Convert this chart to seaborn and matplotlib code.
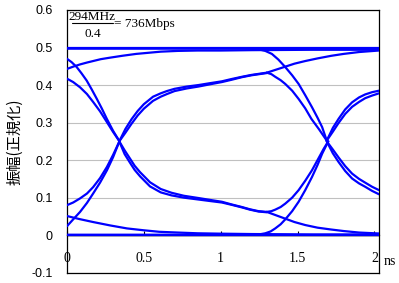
import matplotlib
matplotlib.use("Agg")
import matplotlib.pyplot as plt
import seaborn as sns
import pandas as pd
from matplotlib.lines import Line2D

# ---- axis ticks ----
x_ticks = [0, 0.5, 1, 1.5, 2]
x_tick_labels = ["0", "0.5", "1", "1.5", "2"]
y_ticks = [-0.1, 0, 0.1, 0.2, 0.3, 0.4, 0.5, 0.6]
y_tick_labels = ["-0.1", "0", "0.1", "0.2", "0.3", "0.4", "0.5", "0.6"]

# ---- eye-diagram traces (time in ns, normalised amplitude) ----
# previous bit, ending at first crossing
t_left_fall_hi = [0, 0.03, 0.063, 0.095, 0.128, 0.16, 0.193, 0.226, 0.259, 0.30, 0.34]
v_left_fall_hi = [0.470, 0.461, 0.448, 0.431, 0.412, 0.389, 0.364, 0.338, 0.310, 0.278, 0.251]
t_left_fall_lo = [0, 0.04, 0.085, 0.13, 0.17, 0.215, 0.26, 0.30, 0.34]
v_left_fall_lo = [0.417, 0.408, 0.394, 0.376, 0.355, 0.330, 0.301, 0.275, 0.251]
t_left_rise_hi = [0, 0.04, 0.085, 0.13, 0.17, 0.215, 0.26, 0.30, 0.34]
v_left_rise_hi = [0.080, 0.087, 0.098, 0.111, 0.128, 0.152, 0.182, 0.214, 0.249]
t_left_rise_lo = [0, 0.04, 0.085, 0.13, 0.17, 0.215, 0.26, 0.30, 0.34]
v_left_rise_lo = [0.024, 0.042, 0.062, 0.086, 0.111, 0.140, 0.173, 0.208, 0.249]

# full bit after first crossing
t_mid_rise = [0.34, 0.38, 0.42, 0.46, 0.50, 0.56, 0.61, 0.65, 0.70, 0.78, 0.855, 0.93, 1.008, 1.07, 1.138, 1.20, 1.25, 1.30]
v_mid_rise_a = [0.250, 0.283, 0.309, 0.331, 0.349, 0.369, 0.378, 0.384, 0.390, 0.396, 0.400, 0.405, 0.410, 0.416, 0.422, 0.427, 0.430, 0.433]
v_mid_rise_b = [0.250, 0.273, 0.297, 0.319, 0.337, 0.358, 0.369, 0.376, 0.384, 0.391, 0.396, 0.402, 0.408, 0.414, 0.421, 0.426, 0.429, 0.432]
t_mid_fall = [0.34, 0.375, 0.41, 0.44, 0.475, 0.54, 0.61, 0.68, 0.76, 0.855, 0.93, 1.008, 1.07, 1.138, 1.19, 1.246, 1.30]
v_mid_fall_a = [0.250, 0.226, 0.204, 0.185, 0.168, 0.141, 0.123, 0.113, 0.105, 0.099, 0.094, 0.089, 0.082, 0.075, 0.069, 0.064, 0.062]
v_mid_fall_b = [0.250, 0.216, 0.193, 0.174, 0.157, 0.130, 0.114, 0.106, 0.100, 0.095, 0.091, 0.087, 0.081, 0.074, 0.068, 0.063, 0.061]

t_tail_rise = [1.30, 1.36, 1.42, 1.48, 1.55, 1.63, 1.72, 1.80, 1.90, 2.03]
v_tail_rise = [0.433, 0.441, 0.449, 0.457, 0.464, 0.471, 0.478, 0.483, 0.488, 0.492]
t_bend_down = [1.30, 1.33, 1.355, 1.39, 1.42, 1.465, 1.507, 1.55, 1.59, 1.64, 1.69]
v_bend_down = [0.433, 0.429, 0.422, 0.413, 0.403, 0.385, 0.363, 0.338, 0.310, 0.282, 0.252]
t_tail_fall = [1.30, 1.36, 1.42, 1.48, 1.55, 1.63, 1.72, 1.80, 1.90, 2.03]
v_tail_fall = [0.062, 0.053, 0.044, 0.035, 0.027, 0.020, 0.015, 0.011, 0.007, 0.0045]
t_bend_up = [1.30, 1.33, 1.355, 1.39, 1.42, 1.465, 1.507, 1.55, 1.594, 1.63, 1.67, 1.70]
v_bend_up = [0.062, 0.064, 0.068, 0.075, 0.084, 0.100, 0.120, 0.145, 0.173, 0.200, 0.230, 0.250]

t_top_drop = [0, 1.20, 1.25, 1.29, 1.333, 1.375, 1.42, 1.465, 1.507, 1.55, 1.594, 1.63, 1.66, 1.69]
v_top_drop = [0.497, 0.497, 0.495, 0.491, 0.483, 0.468, 0.448, 0.426, 0.403, 0.373, 0.341, 0.313, 0.288, 0.252]
t_bot_rise = [0, 1.20, 1.25, 1.29, 1.325, 1.355, 1.39, 1.42, 1.465, 1.507, 1.55, 1.594, 1.63, 1.66, 1.70]
v_bot_rise = [0.001, 0.001, 0.002, 0.005, 0.010, 0.018, 0.029, 0.042, 0.064, 0.089, 0.120, 0.155, 0.187, 0.217, 0.250]

t_flat = [0, 2.03]
v_flat_top = [0.498, 0.498]
v_flat_bot = [0.001, 0.001]
t_slow_rise = [0, 0.04, 0.085, 0.13, 0.17, 0.22, 0.28, 0.36, 0.45, 0.53, 0.61, 0.72, 0.85, 1.0, 1.2, 1.6, 2.03]
v_slow_rise = [0.443, 0.449, 0.455, 0.460, 0.464, 0.469, 0.473, 0.478, 0.483, 0.486, 0.489, 0.491, 0.492, 0.492, 0.493, 0.494, 0.494]
t_slow_fall = [0, 0.08, 0.17, 0.28, 0.39, 0.5, 0.6, 0.72, 0.85, 1.0, 1.2, 1.6, 2.03]
v_slow_fall = [0.051, 0.043, 0.035, 0.026, 0.018, 0.013, 0.009, 0.007, 0.005, 0.004, 0.003, 0.002, 0.002]

# after second crossing
t_right = [1.69, 1.73, 1.767, 1.81, 1.855, 1.90, 1.94, 1.985, 2.03]
v_right_rise_a = [0.252, 0.286, 0.310, 0.335, 0.354, 0.367, 0.375, 0.381, 0.385]
v_right_rise_b = [0.252, 0.276, 0.299, 0.323, 0.342, 0.355, 0.365, 0.372, 0.378]
v_right_fall_a = [0.250, 0.228, 0.207, 0.184, 0.164, 0.150, 0.140, 0.129, 0.120]
v_right_fall_b = [0.250, 0.218, 0.195, 0.171, 0.151, 0.138, 0.129, 0.118, 0.109]

traces = {
    "left_fall_hi": (t_left_fall_hi, v_left_fall_hi),
    "left_fall_lo": (t_left_fall_lo, v_left_fall_lo),
    "left_rise_hi": (t_left_rise_hi, v_left_rise_hi),
    "left_rise_lo": (t_left_rise_lo, v_left_rise_lo),
    "mid_rise_a": (t_mid_rise, v_mid_rise_a),
    "mid_rise_b": (t_mid_rise, v_mid_rise_b),
    "mid_fall_a": (t_mid_fall, v_mid_fall_a),
    "mid_fall_b": (t_mid_fall, v_mid_fall_b),
    "tail_rise": (t_tail_rise, v_tail_rise),
    "bend_down": (t_bend_down, v_bend_down),
    "tail_fall": (t_tail_fall, v_tail_fall),
    "bend_up": (t_bend_up, v_bend_up),
    "top_drop": (t_top_drop, v_top_drop),
    "bot_rise": (t_bot_rise, v_bot_rise),
    "flat_top": (t_flat, v_flat_top),
    "flat_bot": (t_flat, v_flat_bot),
    "slow_rise": (t_slow_rise, v_slow_rise),
    "slow_fall": (t_slow_fall, v_slow_fall),
    "right_rise_a": (t_right, v_right_rise_a),
    "right_rise_b": (t_right, v_right_rise_b),
    "right_fall_a": (t_right, v_right_fall_a),
    "right_fall_b": (t_right, v_right_fall_b),
}
rows = []
for name, (ts, vs) in traces.items():
    for i, (tt, vv) in enumerate(zip(ts, vs)):
        rows.append((name, i, tt, vv))
df = pd.DataFrame(rows, columns=["trace", "order", "t", "v"])

sns.set_theme(style="white")
plt.rcParams["font.family"] = ["Liberation Sans", "Noto Sans CJK JP", "DejaVu Sans"]

W, H = 399, 283
fig = plt.figure(figsize=(W / 100, H / 100), dpi=100)
ax = fig.add_axes([67 / W, 1 - 272.7 / H, 312 / W, 262.7 / H])

ax.axhline(0, color="black", lw=1.0, zorder=2)
sns.lineplot(data=df, x="t", y="v", units="trace", estimator=None, sort=False,
             color="#0000ff", lw=1.6, ax=ax, zorder=3,
             solid_joinstyle="round", solid_capstyle="round", legend=False)

ax.set_xlim(0, 2.03)
ax.set_ylim(-0.1, 0.6)
ax.set_xlabel("")
ax.set_ylabel("")
ax.set_xticks([])
ax.set_yticks(y_ticks)
ax.set_yticklabels(y_tick_labels, family="Liberation Sans", size=9, color="black")
ax.tick_params(axis="y", length=0, pad=10.3)
ax.grid(axis="y", color="#c0c0c0", lw=0.8)
ax.set_axisbelow(True)
for s in ax.spines.values():
    s.set_visible(True)
    s.set_color("black")
    s.set_linewidth(0.9)

sec = ax.secondary_xaxis(0.1 / 0.7)
sec.set_xticks(x_ticks)
sec.set_xticklabels(x_tick_labels, family="Liberation Serif", size=10, color="black")
sec.tick_params(direction="in", length=3, width=0.8, pad=12, colors="black")
sec.spines["bottom"].set_color("black")
sec.spines["bottom"].set_linewidth(0.9)

fig.text(384 / W, 1 - 265 / H, "ns", ha="left", va="baseline",
         family="Liberation Serif", size=10, color="black")

fig.text(15 / W, 1 - 142 / H, "振幅(正規化)", rotation=90, ha="center", va="center",
         family=["Noto Sans CJK JP", "DejaVu Sans"], size=11, color="black")

# annotation: 294MHz / 0.4 = 736Mbps
fig.text(92 / W, 1 - 20 / H, "294MHz", ha="center", va="baseline",
         family="Liberation Serif", size=9.5, color="black")
fig.text(92.5 / W, 1 - 36.7 / H, "0.4", ha="center", va="baseline",
         family="Liberation Serif", size=9.5, color="black")
fig.add_artist(Line2D([71.5 / W, 113 / W], [1 - 23.3 / H] * 2, color="black", lw=0.8))
fig.text(114 / W, 1 - 27.3 / H, "= 736Mbps", ha="left", va="baseline",
         family="Liberation Serif", size=9.5, color="black")

fig.savefig("out.png", dpi=100)
